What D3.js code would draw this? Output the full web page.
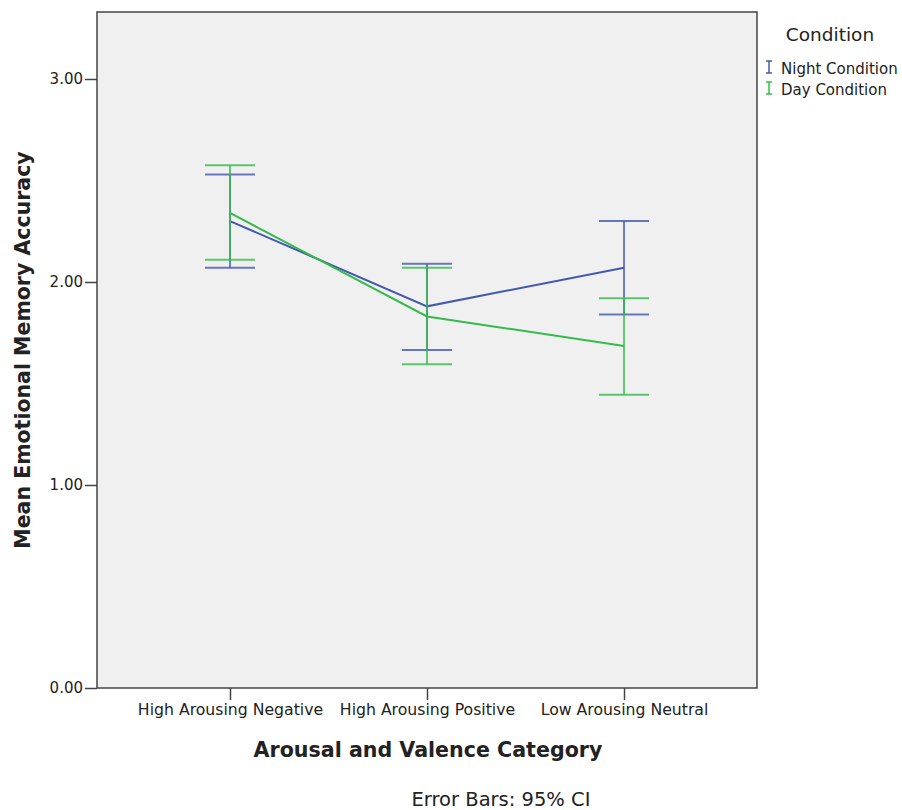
<!DOCTYPE html>
<html>
<head>
<meta charset="utf-8">
<script src="https://cdn.jsdelivr.net/npm/d3@7"></script>
<style>
	body { margin: 0; background: #fff; }
	text { font-family: "DejaVu Sans", sans-serif; fill: #222; }
</style>
</head>
<body>
<svg id="chart" width="902" height="810"></svg>
<script>
var categories = ["High Arousing Negative", "High Arousing Positive", "Low Arousing Neutral"];
var seriesNames = ["Night Condition", "Day Condition"];
var nightMean = [2.30, 1.88, 2.07];
var nightLow = [2.07, 1.665, 1.84];
var nightHigh = [2.53, 2.09, 2.30];
var dayMean = [2.34, 1.83, 1.685];
var dayLow = [2.11, 1.595, 1.445];
var dayHigh = [2.575, 2.07, 1.92];
var yTicks = [0, 1, 2, 3];
var colors = ["#4358b0", "#34bb4a"];

var svg = d3.select('#chart'),
	plotLeft = 97, plotRight = 757, plotTop = 12, plotBottom = 688,
	font = '"DejaVu Sans", sans-serif';

var x = d3.scalePoint().domain(categories).range([plotLeft, plotRight]).padding(0.675);
var y = d3.scaleLinear().domain([0, 3.33]).range([plotBottom, plotTop]);

svg.append('rect')
	.attr('x', plotLeft).attr('y', plotTop)
	.attr('width', plotRight - plotLeft).attr('height', plotBottom - plotTop)
	.attr('fill', '#f0f0f0')
	.attr('stroke', '#444').attr('stroke-width', 1.5);

// y axis
var yAxis = svg.append('g')
	.attr('transform', 'translate(' + plotLeft + ',0)')
	.call(d3.axisLeft(y).tickValues(yTicks).tickSize(12).tickFormat(d3.format('.2f')));
yAxis.select('.domain').remove();
yAxis.selectAll('line').attr('stroke', '#444').attr('stroke-width', 1.5);
yAxis.selectAll('text').attr('font-size', 15).attr('fill', '#222').attr('x', -14)
	.style('font-family', font);

// x axis
var xAxis = svg.append('g')
	.attr('transform', 'translate(0,' + plotBottom + ')')
	.call(d3.axisBottom(x).tickSize(12));
xAxis.select('.domain').remove();
xAxis.selectAll('line').attr('stroke', '#444').attr('stroke-width', 1.5);
xAxis.selectAll('text').attr('font-size', 15.7).attr('fill', '#222').attr('y', 16)
	.style('font-family', font);

var series = [
	{name: seriesNames[0], mean: nightMean, low: nightLow, high: nightHigh, color: colors[0]},
	{name: seriesNames[1], mean: dayMean, low: dayLow, high: dayHigh, color: colors[1]}
];

var line = d3.line()
	.x(function(d) { return x(d.cat); })
	.y(function(d) { return y(d.v); });

series.forEach(function(s) {
	var g = svg.append('g');
	var pts = categories.map(function(c, i) {
		return {cat: c, v: s.mean[i], lo: s.low[i], hi: s.high[i]};
	});
	g.selectAll('.bar').data(pts).enter().append('line')
		.attr('x1', function(d) { return x(d.cat); })
		.attr('x2', function(d) { return x(d.cat); })
		.attr('y1', function(d) { return y(d.lo); })
		.attr('y2', function(d) { return y(d.hi); })
		.attr('stroke', s.color).attr('stroke-width', 1.5);
	['lo', 'hi'].forEach(function(k) {
		g.selectAll('.cap' + k).data(pts).enter().append('line')
			.attr('x1', function(d) { return x(d.cat) - 25; })
			.attr('x2', function(d) { return x(d.cat) + 25; })
			.attr('y1', function(d) { return y(d[k]); })
			.attr('y2', function(d) { return y(d[k]); })
			.attr('stroke', s.color).attr('stroke-width', 2).attr('stroke-opacity', 0.8);
	});
	g.append('path').datum(pts)
		.attr('d', line)
		.attr('fill', 'none')
		.attr('stroke', s.color).attr('stroke-width', 2);
});

// legend
svg.append('text').attr('x', 830).attr('y', 41).attr('text-anchor', 'middle')
	.attr('font-size', 18.5).text('Condition');
series.forEach(function(s, i) {
	var ly = 68 + i * 21;
	var lg = svg.append('g');
	lg.append('line').attr('x1', 769).attr('x2', 769).attr('y1', ly - 7).attr('y2', ly + 5)
		.attr('stroke', s.color).attr('stroke-width', 1.5);
	lg.append('line').attr('x1', 766).attr('x2', 772).attr('y1', ly - 7).attr('y2', ly - 7)
		.attr('stroke', s.color).attr('stroke-width', 1.5);
	lg.append('line').attr('x1', 766).attr('x2', 772).attr('y1', ly + 5).attr('y2', ly + 5)
		.attr('stroke', s.color).attr('stroke-width', 1.5);
	lg.append('text').attr('x', 781).attr('y', ly + 6).attr('font-size', 15).text(s.name);
});

// titles
svg.append('text')
	.attr('transform', 'translate(30,' + ((plotTop + plotBottom) / 2) + ') rotate(-90)')
	.attr('text-anchor', 'middle').attr('font-size', 20.5).attr('font-weight', 'bold')
	.text('Mean Emotional Memory Accuracy');
svg.append('text')
	.attr('x', 428).attr('y', 757).attr('text-anchor', 'middle')
	.attr('font-size', 20.6).attr('font-weight', 'bold')
	.text('Arousal and Valence Category');
svg.append('text')
	.attr('x', 501).attr('y', 806).attr('text-anchor', 'middle')
	.attr('font-size', 19.5).text('Error Bars: 95% CI');
</script>
</body>
</html>
